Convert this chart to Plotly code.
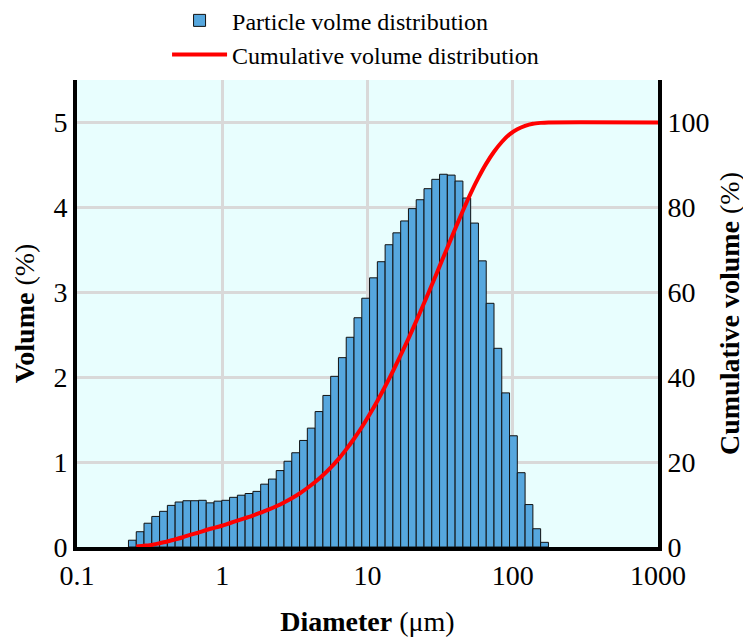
import numpy as np
import plotly.graph_objects as go

# Diameter bin edges (µm), log-spaced
bin_edges = [0.2261, 0.2558, 0.2893, 0.3273, 0.3704, 0.4189, 0.4739, 0.5362, 0.6064, 0.6861,
             0.7756, 0.8777, 0.9929, 1.123, 1.271, 1.437, 1.626, 1.839, 2.080, 2.353,
             2.662, 3.011, 3.407, 3.853, 4.359, 4.931, 5.578, 6.310, 7.137, 8.074,
             9.134, 10.33, 11.69, 13.22, 14.96, 16.92, 19.14, 21.65, 24.49, 27.71,
             31.34, 35.45, 40.11, 45.37, 51.32, 58.05, 65.67, 74.29, 84.04, 95.04,
             107.5, 121.6, 137.6, 155.6, 176.1]

# Volume (%) in each bin
volume = [0.08, 0.18, 0.28, 0.36, 0.42, 0.49, 0.53, 0.545, 0.545, 0.55,
          0.52, 0.54, 0.55, 0.585, 0.61, 0.63, 0.655, 0.74, 0.80, 0.90,
          1.01, 1.11, 1.255, 1.40, 1.595, 1.785, 2.01, 2.23, 2.47, 2.70,
          2.93, 3.17, 3.36, 3.56, 3.70, 3.84, 3.985, 4.09, 4.22, 4.33,
          4.39, 4.38, 4.31, 4.11, 3.815, 3.37, 2.87, 2.34, 1.815, 1.31,
          0.875, 0.50, 0.215, 0.055]

# Cumulative volume (%) at the upper edge of each bin, then out to 1000 µm
cum_diam = bin_edges[1:] + [1000]
cumulative = [0.1, 0.3, 0.5, 0.9, 1.3, 1.8, 2.3, 2.9, 3.4, 4.0,
              4.5, 5.0, 5.6, 6.2, 6.8, 7.4, 8.1, 8.8, 9.6, 10.5,
              11.5, 12.6, 13.9, 15.3, 16.9, 18.7, 20.7, 23.0, 25.5, 28.2,
              31.2, 34.4, 37.8, 41.4, 45.2, 49.1, 53.2, 57.4, 61.7, 66.1,
              70.5, 74.9, 79.2, 83.3, 87.0, 90.3, 93.1, 95.4, 97.2, 98.4,
              99.2, 99.7, 99.9, 100.0, 100.0]

x_ticks = [0.1, 1, 10, 100, 1000]
x_ticktext = ["0.1", "1", "10", "100", "1000"]
y_ticks = [0, 1, 2, 3, 4, 5]
y2_ticks = [0, 20, 40, 60, 80, 100]

edges = np.array(bin_edges)
lo, hi = edges[:-1], edges[1:]
centers = (lo + hi) / 2.0
widths = hi - lo

FONT = "Liberation Serif"

fig = go.Figure()
fig.add_trace(go.Bar(
    x=centers, y=volume, width=widths,
    name="Particle volme distribution",
    marker=dict(color="#56A7DE", line=dict(color="#111111", width=1)),
    yaxis="y",
))
fig.add_trace(go.Scatter(
    x=cum_diam, y=cumulative, mode="lines",
    name="Cumulative volume distribution",
    line=dict(color="#FF0000", width=4, shape="spline", smoothing=0.6),
    yaxis="y2",
))

fig.update_layout(
    width=743, height=629,
    margin=dict(l=69, r=93, t=72, b=90, autoexpand=False),
    paper_bgcolor="white",
    plot_bgcolor="#E8FEFE",
    font=dict(family=FONT, size=28, color="black"),
    showlegend=True,
    legend=dict(
        x=0.155, y=1.175, xanchor="left", yanchor="top",
        font=dict(family=FONT, size=24, color="black"),
        bgcolor="rgba(0,0,0,0)", tracegroupgap=0,
        itemwidth=55,
    ),
    xaxis=dict(
        type="log", range=[-1, 3],
        tickvals=x_ticks, ticktext=x_ticktext,
        showgrid=True, gridcolor="#D9D9D9", gridwidth=2.5,
        showline=True, linecolor="black", linewidth=4,
        ticks="", zeroline=False, automargin=False,
        tickfont=dict(size=28),
        title=dict(text="<b>Diameter</b> (μm)", font=dict(size=28), standoff=26),
    ),
    yaxis=dict(
        range=[0, 5.5], tickvals=y_ticks,
        showgrid=True, gridcolor="#D9D9D9", gridwidth=2.5,
        showline=True, linecolor="black", linewidth=4,
        ticks="", zeroline=False, automargin=False,
        tickfont=dict(size=28),
        title=dict(text="<b>Volume</b> (%)", font=dict(size=28), standoff=12),
    ),
    yaxis2=dict(
        overlaying="y", side="right",
        range=[0, 110], tickvals=y2_ticks,
        showgrid=False,
        showline=True, linecolor="black", linewidth=4,
        ticks="", zeroline=False, automargin=False,
        tickfont=dict(size=28),
        title=dict(text="<b>Cumulative volume</b> (%)", font=dict(size=28), standoff=12),
    ),
)

fig.write_html("out.html")
